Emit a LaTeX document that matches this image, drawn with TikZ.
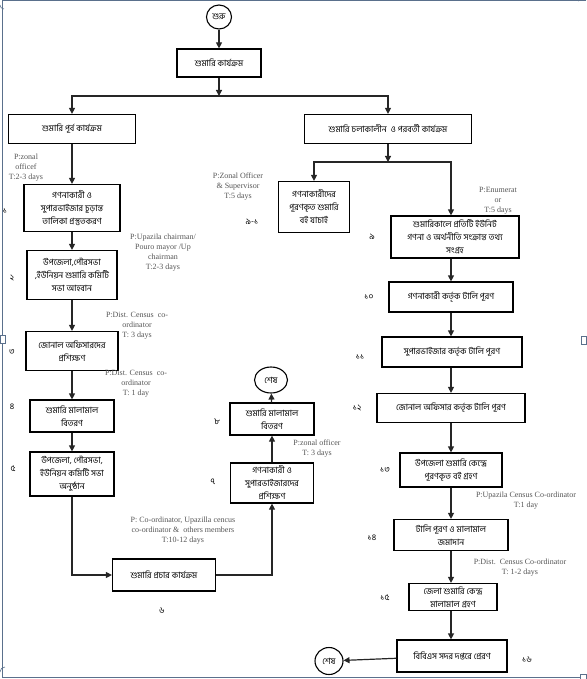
\documentclass[tikz,border=0pt]{standalone}
\usepackage{fontspec}
\setmainfont{Liberation Serif}
\newfontfamily\bn[Script=Bengali]{Hind Siliguri}
\usetikzlibrary{arrows.meta,shapes.geometric}
\definecolor{framec}{RGB}{90,112,140}
\definecolor{annc}{RGB}{85,85,85}
\tikzset{
  box/.style={draw=black, line width=1.2pt, align=center, inner sep=0pt, font=\bn\fontsize{8.6}{13}\selectfont},
  term/.style={draw=black, line width=1.1pt, ellipse, inner sep=0pt, font=\bn\fontsize{8.6}{10}\selectfont},
  ann/.style={font=\fontsize{8}{10}\selectfont, text=annc, align=center, inner sep=0pt},
  num/.style={font=\bn\fontsize{8.5}{9}\selectfont, inner sep=0pt},
  arr/.style={draw=black!85, line width=1.2pt, -{Triangle[length=6pt,width=6pt]}},
  frm/.style={draw=framec, line width=1pt}
}
\newcommand{\bx}[6]{\node[box, minimum width=#4pt, minimum height=#5pt] (#1) at (#2,#3) {#6};}
\begin{document}
\begin{tikzpicture}[x=1pt,y=-1pt]
\useasboundingbox (0,0) rectangle (586,679);
% frame
\draw[frm] (586,1) -- (2.5,1) -- (2.5,677.5) -- (586,677.5);
\draw[frm, fill=white, line width=0.6pt] (0,335) rectangle (5,343);
\draw[frm, fill=white, line width=0.6pt] (581,336) rectangle (586,344);
\draw[frm, line width=0.6pt] (0,5) arc[start angle=180, end angle=90, radius=4];
\draw[frm, line width=0.6pt] (578,1) arc[start angle=90, end angle=0, radius=5];
\draw[frm, line width=0.6pt] (0,672) arc[start angle=180, end angle=270, radius=5];
\draw[frm, fill=white, line width=0.6pt] (580,674) rectangle (586,679);

% terminals
\node[term, minimum width=25pt, minimum height=24pt] (start) at (219,17) {শুরু};
\node[term, minimum width=33pt, minimum height=26pt] (end1) at (271,380) {শেষ};
\node[term, minimum width=28pt, minimum height=27pt] (end2) at (329,661) {শেষ};

% boxes
\bx{top}{219}{63}{84}{28}{শুমারি কার্যক্রম}
\bx{pre}{72}{129}{127}{29}{শুমারি পূর্ব কার্যক্রম}
\bx{during}{388}{129}{167}{29}{শুমারি চলাকালীন\ \ ও পরবর্তী কার্যক্রম}
\bx{b1}{72}{208}{96}{47}{গণনাকারী ও\\সুপারভাইজার চূড়ান্ত\\তালিকা প্রস্তুতকরণ}
\bx{b2}{72}{275}{90}{49}{উপজেলা,পৌরসভা\\,ইউনিয়ন শুমারি কমিটি\\সভা আহবান}
\bx{b3}{72}{351}{92}{39}{জোনাল অফিসারদের\\প্রশিক্ষণ}
\bx{b4}{72}{416}{84}{32}{শুমারি মালামাল\\বিতরণ}
\bx{b5}{72}{474}{84}{44}{উপজেলা, পৌরসভা,\\ইউনিয়ন কমিটি সভা\\অনুষ্ঠান}
\bx{b6}{164}{575}{103}{32}{শুমারি প্রচার কার্যক্রম}
\bx{b7}{272}{483}{83}{40}{গণনাকারী ও\\সুপারভাইজারদের\\প্রশিক্ষণ}
\bx{b8}{272}{419}{84}{32}{শুমারি মালামাল\\বিতরণ}
\bx{b91}{314}{207}{71}{51}{গণনাকারীদের\\পূরণকৃত শুমারি\\বই যাচাই}
\bx{b9}{455}{237}{128}{42}{শুমারিকালে প্রতিটি ইউনিট\\গণনা ও অর্থনীতি সংক্রান্ত তথ্য\\সংগ্রহ}
\bx{b10}{451}{297}{124}{30}{গণনাকারী কর্তৃক টালি পূরণ}
\bx{b11}{452}{352}{140}{30}{সুপারভাইজার কর্তৃক টালি পূরণ}
\bx{b12}{451}{408}{148}{29}{জোনাল অফিসার কর্তৃক টালি পূরণ}
\bx{b13}{451}{470}{102}{34}{উপজেলা শুমারি কেন্দ্রে\\পূরণকৃত বই গ্রহণ}
\bx{b14}{451}{535}{114}{31}{টালি পূরণ ও মালামাল\\জমাদান}
\bx{b15}{453}{597}{88}{27}{জেলা শুমারি কেন্দ্র\\মালামাল গ্রহণ}
\bx{b16}{452}{656}{110}{32}{বিবিএস সদর দপ্তরে প্রেরণ}

% junctions
\coordinate (j1) at (219,96);
\coordinate (j2) at (388,162);
\coordinate (cx) at (451,0);

% connectors
\draw[arr] (start) -- (top);
\draw[arr] (top) -- (j1);
\draw[arr] (j1) -| (pre);
\draw[arr] (j1) -| (during);
\draw[arr] (during) -- (j2);
\draw[arr] (j2) -| (b91);
\draw[arr] (j2) -| (b9.north -| cx);
\draw[arr] (pre) -- (b1);
\draw[arr] (b1) -- (b2);
\draw[arr] (b2) -- (b3);
\draw[arr] (b3) -- (b4);
\draw[arr] (b4) -- (b5);
\draw[arr] (b5) |- (b6);
\draw[arr] (b6) -| (b7);
\draw[arr] (b7) -- (b8);
\draw[arr] (b8) -- (end1);
\draw[arr] (b9.south -| cx) -- (b10.north -| cx);
\draw[arr] (b10.south -| cx) -- (b11.north -| cx);
\draw[arr] (b11.south -| cx) -- (b12.north -| cx);
\draw[arr] (b12.south -| cx) -- (b13.north -| cx);
\draw[arr] (b13.south -| cx) -- (b14.north -| cx);
\draw[arr] (b14.south -| cx) -- (b15.north -| cx);
\draw[arr] (b15.south -| cx) -- (b16.north -| cx);
\draw[arr] (b16) -- (end2);

% numbers
\node[num] (n1) at (5,211) {১};
\node[num] (n2) at (12,278) {২};
\node[num] (n3) at (12,352) {৩};
\node[num] (n4) at (12,407) {৪};
\node[num] (n5) at (13,469) {৫};
\node[num] (n6) at (162,611) {৬};
\node[num] (n7) at (213,482) {৭};
\node[num] (n8) at (217,422) {৮};
\node[num] (n91) at (252,222) {৯-১};
\node[num] (n9) at (372,237) {৯};
\node[num] (n10) at (369,297) {১০};
\node[num] (n11) at (360,357) {১১};
\node[num] (n12) at (357,408) {১২};
\node[num] (n13) at (385,470) {১৩};
\node[num] (n14) at (372,538) {১৪};
\node[num] (n15) at (385,598) {১৫};
\node[num] (n16) at (527,660) {১৬};

% annotations
\node[ann] (a1) at (26,168) {P:zonal\\officef\\T:2-3 days};
\node[ann] (a91) at (238,187) {P:Zonal Officer\\\& Supervisor\\T:5 days};
\node[ann] (a9) at (498,201) {P:Enumerat\\or\\T:5 days};
\node[ann] (a2) at (163,253) {P:Upazila chairman/\\Pouro mayor /Up\\chairman\\T:2-3 days};
\node[ann] (a3) at (137,326) {P:Dist. Census\ \ co-\\ordinator\\T: 3 days};
\node[ann] (a4) at (136,384) {P:Dist. Census\ \ co-\\ordinator\\T: 1 day};
\node[ann] (a8) at (317,449) {P:zonal officer\\T: 3 days};
\node[ann] (a6) at (183,531) {P: Co-ordinator, Upazilla cencus\\co-ordinator \&\ \ others members\\T:10-12 days};
\node[ann] (a14) at (526,501) {P:Upazila Census Co-ordinator\\T:1 day};
\node[ann] (a15) at (520,568) {P:Dist.\ \ Census Co-ordinator\\T: 1-2 days};
\end{tikzpicture}
\end{document}
